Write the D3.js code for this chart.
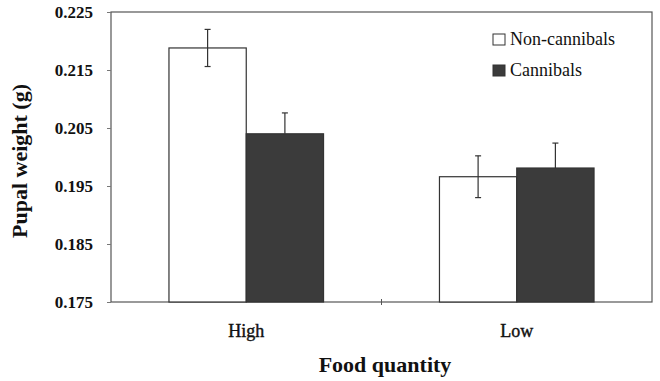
<!DOCTYPE html>
<html>
<head>
<meta charset="utf-8">
<script src="https://cdn.jsdelivr.net/npm/d3@7"></script>
<style>
  body { margin: 0; background: #fff; }
  text { font-family: "Liberation Serif", "Times New Roman", serif; fill: #111; }
</style>
</head>
<body>
<div class="chart"></div>
<script>
(function() {
  // data
  var foodLevels = ["High", "Low"];
  var seriesNames = ["Non-cannibals", "Cannibals"];
  var nonCannibalMeans = [0.2188, 0.1966];
  var nonCannibalErr = [0.0032, 0.0036];
  var cannibalMeans = [0.2040, 0.1981];
  var cannibalErr = [0.0036, 0.0043];
  var yTicks = [0.175, 0.185, 0.195, 0.205, 0.215, 0.225];

  var width = 660, height = 381,
    margin = {top: 12, left: 111, right: 8, bottom: 79};
  var colors = ["#ffffff", "#3b3b3b"];
  var serif = "'Liberation Serif', 'Times New Roman', serif";

  var svg = d3.select(".chart").append("svg")
    .attr("width", width)
    .attr("height", height);

  var x = d3.scaleBand().domain(foodLevels)
    .range([margin.left, width - margin.right]);
  var xs = d3.scaleBand().domain(seriesNames)
    .range([0, x.bandwidth()]).paddingOuter(0.75).paddingInner(0);
  var y = d3.scaleLinear().domain([0.175, 0.225])
    .range([height - margin.bottom, margin.top]);

  var rows = foodLevels.map(function(f, i) {
    return {food: f, vals: [
      {s: seriesNames[0], v: nonCannibalMeans[i], e: nonCannibalErr[i]},
      {s: seriesNames[1], v: cannibalMeans[i], e: cannibalErr[i]}
    ]};
  });

  // frame
  svg.append("rect")
    .attr("x", margin.left).attr("y", margin.top)
    .attr("width", width - margin.left - margin.right)
    .attr("height", height - margin.top - margin.bottom)
    .attr("fill", "none").attr("stroke", "#555").attr("stroke-width", 1.2);

  var grp = svg.selectAll("g.grp").data(rows).enter().append("g")
    .attr("class", "grp")
    .attr("transform", function(d) { return "translate(" + x(d.food) + ",0)"; });

  grp.selectAll("rect").data(function(d) { return d.vals; }).enter().append("rect")
    .attr("x", function(d) { return xs(d.s); })
    .attr("y", function(d) { return y(d.v); })
    .attr("width", xs.bandwidth())
    .attr("height", function(d) { return y(0.175) - y(d.v); })
    .attr("fill", function(d, i) { return colors[i]; })
    .attr("stroke", "#333").attr("stroke-width", 1.2);

  var eb = grp.selectAll("g.err").data(function(d) { return d.vals; }).enter().append("g")
    .attr("class", "err")
    .attr("stroke", "#333").attr("stroke-width", 1.2);
  eb.append("line")
    .attr("x1", function(d) { return xs(d.s) + xs.bandwidth() / 2; })
    .attr("x2", function(d) { return xs(d.s) + xs.bandwidth() / 2; })
    .attr("y1", function(d) { return y(d.v + d.e); })
    .attr("y2", function(d, i) { return i === 1 ? y(d.v) : y(d.v - d.e); });
  eb.append("line")
    .attr("x1", function(d) { return xs(d.s) + xs.bandwidth() / 2 - 3; })
    .attr("x2", function(d) { return xs(d.s) + xs.bandwidth() / 2 + 3; })
    .attr("y1", function(d) { return y(d.v + d.e); })
    .attr("y2", function(d) { return y(d.v + d.e); });
  eb.filter(function(d, i) { return i === 0; }).append("line")
    .attr("x1", function(d) { return xs(d.s) + xs.bandwidth() / 2 - 3; })
    .attr("x2", function(d) { return xs(d.s) + xs.bandwidth() / 2 + 3; })
    .attr("y1", function(d) { return y(d.v - d.e); })
    .attr("y2", function(d) { return y(d.v - d.e); });

  // y axis
  var yAxis = svg.append("g")
    .attr("transform", "translate(" + margin.left + ",0)")
    .call(d3.axisLeft(y).tickValues(yTicks).tickFormat(d3.format(".3f")).tickSize(4).tickPadding(14));
  yAxis.select(".domain").remove();
  yAxis.selectAll("line").attr("stroke", "#777");
  yAxis.selectAll("text")
    .style("font-family", serif)
    .style("font-size", "17px").style("font-weight", "bold").attr("fill", "#111");

  // x axis: category separator tick
  svg.append("line")
    .attr("x1", x("Low")).attr("x2", x("Low"))
    .attr("y1", y(0.175) - 3).attr("y2", y(0.175) + 3)
    .attr("stroke", "#555");

  svg.selectAll("text.xlab").data(foodLevels).enter().append("text")
    .attr("class", "xlab")
    .attr("x", function(d) { return x(d) + x.bandwidth() / 2; })
    .attr("y", 337)
    .attr("text-anchor", "middle")
    .style("font-family", serif)
    .style("font-size", "18px")
    .attr("stroke", "#111").attr("stroke-width", 0.4)
    .text(function(d) { return d; });

  svg.append("text")
    .attr("x", 385)
    .attr("y", 372)
    .attr("text-anchor", "middle")
    .style("font-family", serif)
    .style("font-size", "22px").style("font-weight", "bold")
    .text("Food quantity");

  svg.append("text")
    .attr("transform", "translate(27,161) rotate(-90)")
    .attr("text-anchor", "middle")
    .style("font-family", serif)
    .style("font-size", "22px").style("font-weight", "bold")
    .text("Pupal weight (g)");

  // legend
  var lg = svg.selectAll("g.lg").data(seriesNames).enter().append("g")
    .attr("class", "lg")
    .attr("transform", function(d, i) { return "translate(493," + (34 + i * 31) + ")"; });
  lg.append("rect")
    .attr("width", 12).attr("height", 11)
    .attr("fill", function(d, i) { return colors[i]; })
    .attr("stroke", "#333");
  lg.append("text")
    .attr("x", 17).attr("y", 11)
    .style("font-family", serif)
    .style("font-size", "18px")
    .text(function(d) { return d; });
})();
</script>
</body>
</html>
